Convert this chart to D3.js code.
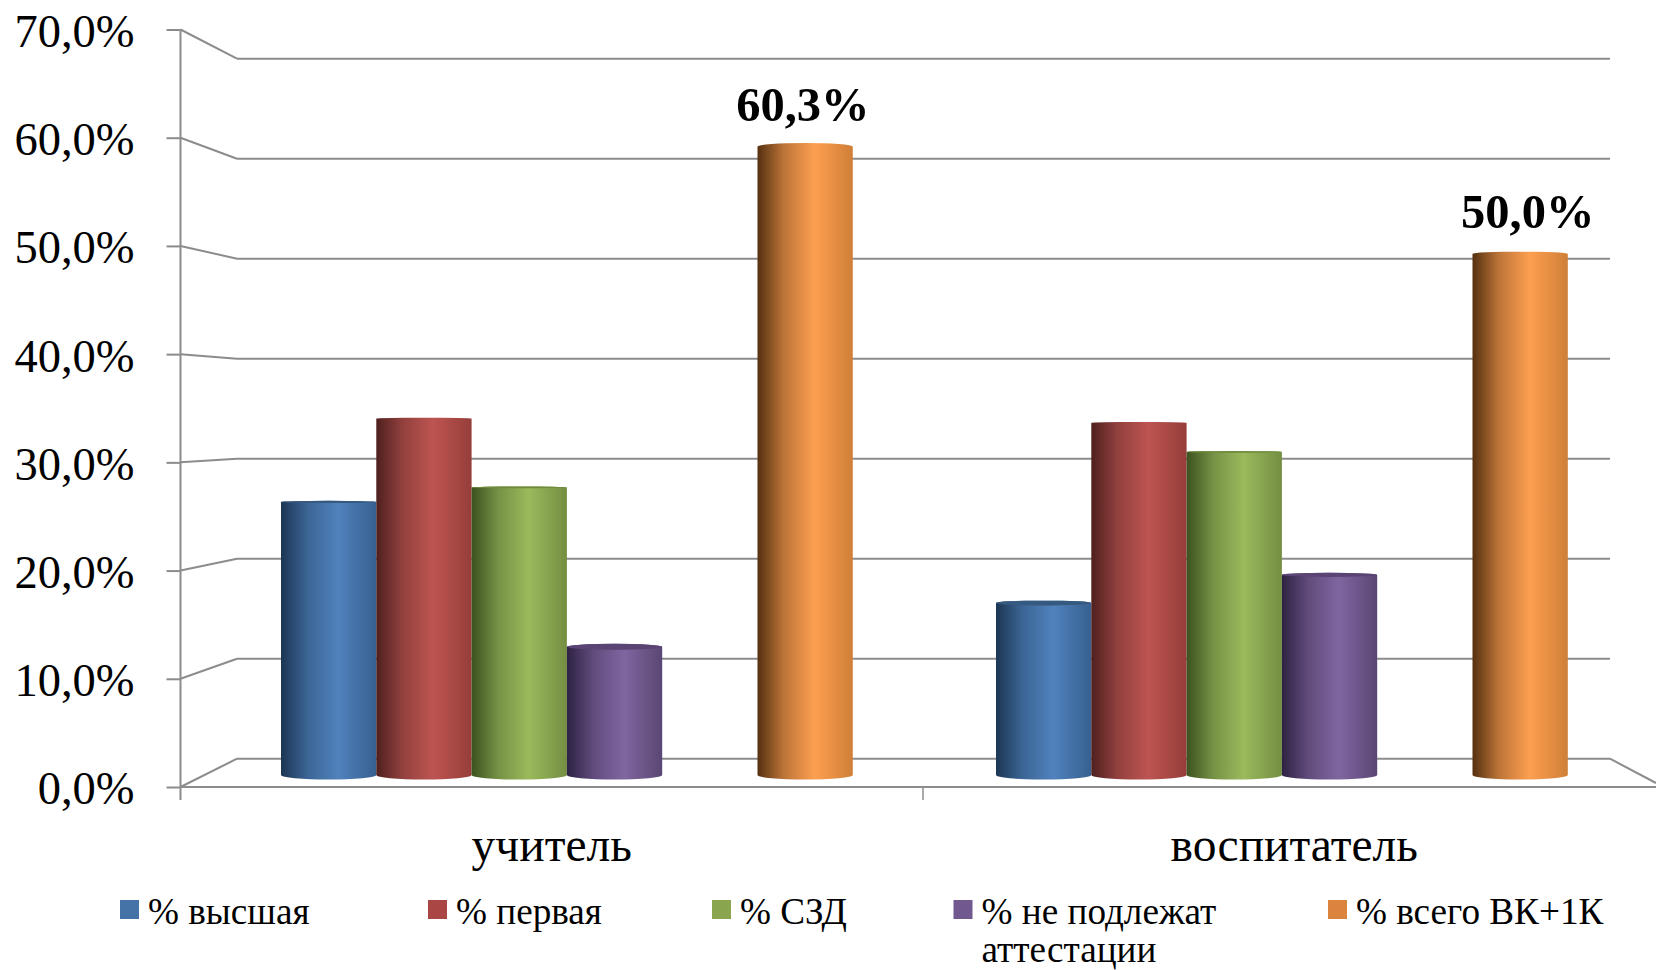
<!DOCTYPE html>
<html>
<head>
<meta charset="utf-8">
<style>
html, body { margin: 0; background: #fff; }
text { font-family: "Liberation Serif", serif; fill: #000; }
.axisLine { stroke: #8c8c8c; stroke-width: 2px; fill: none; }
.tickLabel { font-size: 46.5px; }
.catLabel { font-size: 47.5px; }
.valLabel { font-size: 48.5px; font-weight: bold; }
.legendText { font-size: 37.2px; }
</style>
<script src="https://cdn.jsdelivr.net/npm/d3@7/dist/d3.min.js"></script>
</head>
<body>
<div id="chart"></div>
<script>
const categories = ["учитель", "воспитатель"];
const seriesNames = ["% высшая", "% первая", "% СЗД", "% не подлежат аттестации", "% всего ВК+1К"];
const slots = ["0", "1", "2", "3", "gap", "4"]; // empty slot before the orange bar

const values = [
    [26.2, 34.2, 27.6, 12.3, 60.3],
    [16.5, 33.8, 31.0, 19.2, 50.0]
];
const yTicks = [0, 10, 20, 30, 40, 50, 60, 70];

const seriesColors = [
    { mid: "#5082bd", left: "#1c3654", right: "#37608f", top: "#36597f", key: "#4572a7" },
    { mid: "#bd5551", left: "#4e201e", right: "#963d3a", top: "#8e3b39", key: "#aa4643" },
    { mid: "#9aba5c", left: "#3c5220", right: "#748e42", top: "#6f8a3c", key: "#89a54e" },
    { mid: "#8066a0", left: "#2e2243", right: "#5a4673", top: "#5a4473", key: "#71588f" },
    { mid: "#fd9f50", left: "#553010", right: "#cf7f38", top: "#c0702c", key: "#db843d" }
];
const legendX = [120, 428, 712, 953.5, 1328];
const labelShift = [-2.3, 7.6];

const width = 1656, height = 970;
const svg = d3.select("#chart").append("svg")
    .attr("width", width).attr("height", height)
    .style("display", "block");

const yFront = d3.scaleLinear().domain([0, 70]).range([787, 29.5]);
const yBack = d3.scaleLinear().domain([0, 70]).range([758.7, 58.7]);
const yBar = d3.scaleLinear().domain([0, 70]).range([775, 45.4]);

const x0 = d3.scaleBand().domain(categories).range([281, 1567.8]).paddingInner(0.2003);
const x1 = d3.scaleBand().domain(slots).range([0, x0.bandwidth()]);
const xCat = d3.scaleBand().domain(categories).range([180.5, 1665.5]);

const frontX = 180.5, backX = 237, backRight = 1610;

// back wall and side wall
const gridG = svg.append("g");
gridG.selectAll(".grid").data(yTicks).enter().append("line")
    .attr("class", "axisLine")
    .attr("x1", backX).attr("x2", backRight)
    .attr("y1", d => yBack(d)).attr("y2", d => yBack(d));
gridG.selectAll(".side").data(yTicks).enter().append("line")
    .attr("class", "axisLine")
    .attr("x1", frontX).attr("x2", backX)
    .attr("y1", d => yFront(d)).attr("y2", d => yBack(d));

// floor
gridG.append("line").attr("class", "axisLine")
    .attr("x1", backRight).attr("y1", yBack(0)).attr("x2", 1656).attr("y2", 783);
gridG.append("line").attr("class", "axisLine")
    .attr("x1", frontX).attr("x2", 1656).attr("y1", yFront(0)).attr("y2", yFront(0));

// front value axis
const yAxis = d3.axisLeft(yFront).tickValues(yTicks).tickSize(14).tickPadding(32)
    .tickFormat(d => d3.format(".1f")(d).replace(".", ",") + "%");
const yG = svg.append("g").attr("transform", `translate(${frontX},0)`).call(yAxis);
yG.select(".domain").remove();
yG.selectAll(".tick line").attr("class", "axisLine");
yG.selectAll(".tick text").attr("class", "tickLabel").attr("font-family", null).attr("font-size", null)
    .attr("transform", "translate(0,2)");
yG.append("line").attr("class", "axisLine")
    .attr("y1", yFront(70)).attr("y2", 800);

// category divider tick
svg.append("line").attr("class", "axisLine").style("stroke-width", "1.5px")
    .attr("x1", 923).attr("x2", 923).attr("y1", yFront(0)).attr("y2", 800);

// gradients
const defs = svg.append("defs");
seriesColors.forEach((c, i) => {
    const g = defs.append("linearGradient").attr("id", "cyl" + i);
    g.append("stop").attr("offset", "0%").attr("stop-color", c.left);
    g.append("stop").attr("offset", "28%").attr("stop-color", d3.interpolateRgb(c.left, c.mid)(0.62));
    g.append("stop").attr("offset", "60%").attr("stop-color", c.mid);
    g.append("stop").attr("offset", "100%").attr("stop-color", c.right);
});

// ellipse flattening grows away from the eye level of the 3D view
function flat(y) { return Math.max(0.8, Math.abs(y - 420) * 0.013); }

const barData = [];
categories.forEach((cat, ci) => {
    seriesNames.forEach((name, si) => {
        barData.push({ cat, ci, si, value: values[ci][si] });
    });
});

const bars = svg.append("g").selectAll(".bar").data(barData).enter().append("g").attr("class", "bar");

function barX(d) { return x0(d.cat) + x1(slots[d.si === 4 ? 5 : d.si]); }

bars.append("path")
    .attr("fill", d => `url(#cyl${d.si})`)
    .attr("d", d => {
        const x = barX(d), w = x1.bandwidth(), y = yBar(d.value), base = yBar(0);
        const ryB = flat(base), ryT = flat(y);
        return `M${x},${y} L${x},${base} A${w / 2},${ryB} 0 0 0 ${x + w},${base} L${x + w},${y} A${w / 2},${ryT} 0 0 0 ${x},${y} Z`;
    });

bars.filter(d => yBar(d.value) > 440).append("ellipse")
    .attr("fill", d => seriesColors[d.si].top)
    .attr("cx", d => barX(d) + x1.bandwidth() / 2)
    .attr("cy", d => yBar(d.value))
    .attr("rx", x1.bandwidth() / 2)
    .attr("ry", d => flat(yBar(d.value)));

// value labels only on the orange bars
svg.append("g").selectAll(".valLabel").data(barData.filter(d => d.si === 4)).enter().append("text")
    .attr("class", "valLabel")
    .attr("text-anchor", "middle")
    .attr("x", d => barX(d) + x1.bandwidth() / 2 + labelShift[d.ci])
    .attr("y", d => yBar(d.value) - 26)
    .text(d => d3.format(".1f")(d.value).replace(".", ",") + "%");

// category labels
svg.append("g").selectAll(".catLabel").data(categories).enter().append("text")
    .attr("class", "catLabel")
    .attr("text-anchor", "middle")
    .attr("x", d => xCat(d) + xCat.bandwidth() / 2)
    .attr("y", 861)
    .text(d => d);

// legend
const legend = svg.append("g").selectAll(".legendItem").data(seriesNames).enter().append("g")
    .attr("class", "legendItem")
    .attr("transform", (d, i) => `translate(${legendX[i]},900)`);
legend.append("rect")
    .attr("width", 19).attr("height", 19)
    .attr("fill", (d, i) => seriesColors[i].key);
legend.append("text")
    .attr("class", "legendText")
    .attr("x", 28).attr("y", 24)
    .text(d => d.replace(" аттестации", ""));
legend.filter(d => d.includes("аттестации")).append("text")
    .attr("class", "legendText")
    .attr("x", 28).attr("y", 62)
    .text("аттестации");
</script>
</body>
</html>
